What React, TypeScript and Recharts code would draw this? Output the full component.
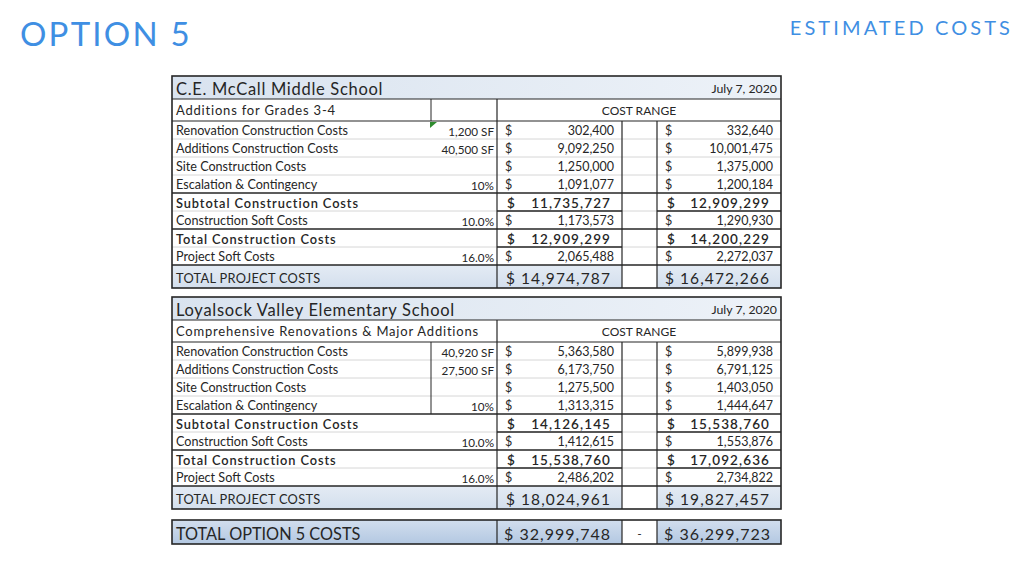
import React from 'react';
import { ComposedChart, Customized } from 'recharts';

// ---- data ----
const schools = ['C.E. McCall Middle School', 'Loyalsock Valley Elementary School'];
const projectTitles = ['Additions for Grades 3-4', 'Comprehensive Renovations & Major Additions'];
const reportDate = 'July 7, 2020';
const lineItems = [
  'Renovation Construction Costs',
  'Additions Construction Costs',
  'Site Construction Costs',
  'Escalation & Contingency',
  'Subtotal Construction Costs',
  'Construction Soft Costs',
  'Total Construction Costs',
  'Project Soft Costs',
  'TOTAL PROJECT COSTS',
];
const mccallQty = ['1,200 SF', '40,500 SF', '', '10%', '', '10.0%', '', '16.0%', ''];
const mccallLow = [302400, 9092250, 1250000, 1091077, 11735727, 1173573, 12909299, 2065488, 14974787];
const mccallHigh = [332640, 10001475, 1375000, 1200184, 12909299, 1290930, 14200229, 2272037, 16472266];
const loyalsockQty = ['40,920 SF', '27,500 SF', '', '10%', '', '10.0%', '', '16.0%', ''];
const loyalsockLow = [5363580, 6173750, 1275500, 1313315, 14126145, 1412615, 15538760, 2486202, 18024961];
const loyalsockHigh = [5899938, 6791125, 1403050, 1444647, 15538760, 1553876, 17092636, 2734822, 19827457];
const optionTotal = [32999748, 36299723];

const tables = [
  { school: schools[0], title: projectTitles[0], qty: mccallQty, low: mccallLow, high: mccallHigh },
  { school: schools[1], title: projectTitles[1], qty: loyalsockQty, low: loyalsockLow, high: loyalsockHigh },
];

// ---- layout ----
const FONT = 'Lato, "Open Sans", sans-serif';
const INK = '#262626';
const X0 = 172, XQ = 431, XC1 = 497, XG = 622, XC2 = 657, X1 = 781;
const HEAD_H = 23, SUB_H = 22, ROW_H = 18, TOTAL_H = 23;
const TABLE_TOPS = [76, 297];
const GRAND_TOP = 520, GRAND_H = 24;
const boldRows = [4, 6];
const totalRow = 8;

const fmt = (v: number) => v.toLocaleString('en-US');

const CostTable = ({ t, top, qtyGrid, comment }: any) => {
  const rowsTop = top + HEAD_H + SUB_H;
  const rowY = (i: number) => rowsTop + i * ROW_H;
  const bottom = rowY(totalRow) + TOTAL_H;
  const els: React.ReactNode[] = [];

  // backgrounds
  els.push(<rect key="hbg" x={X0} y={top} width={X1 - X0} height={HEAD_H} fill="url(#headGrad)" />);
  els.push(<rect key="tbg" x={X0} y={rowY(totalRow)} width={X1 - X0} height={TOTAL_H} fill="url(#totGrad)" />);
  els.push(<rect key="tgap" x={XG} y={rowY(totalRow)} width={XC2 - XG} height={TOTAL_H} fill="#fff" />);

  // thin row separators
  t.qty.forEach((_: string, i: number) => {
    if (i === 0) return;
    const heavy = i === 4 || i === 6 || i === 8;
    els.push(
      <line key={`h${i}`} x1={X0} x2={X1} y1={rowY(i)} y2={rowY(i)}
        stroke={heavy ? INK : '#cccccc'} strokeWidth={heavy ? 1.6 : 0.8} />
    );
  });
  // heavy bottoms of bold rows in the cost columns
  boldRows.forEach((r) => {
    [[XC1, XG], [XC2, X1]].forEach(([a, b], k) => (
      els.push(<line key={`bb${r}${k}`} x1={a} x2={b} y1={rowY(r + 1)} y2={rowY(r + 1)} stroke={INK} strokeWidth={1.6} />)
    ));
  });

  // header separators
  els.push(<line key="hs1" x1={X0} x2={X1} y1={top + HEAD_H} y2={top + HEAD_H} stroke={INK} strokeWidth={1.2} />);
  els.push(<line key="hs2" x1={X0} x2={X1} y1={rowsTop} y2={rowsTop} stroke={INK} strokeWidth={1.2} />);

  // verticals
  if (qtyGrid) {
    els.push(<line key="vq" x1={XQ} x2={XQ} y1={rowsTop} y2={rowY(4)} stroke={INK} strokeWidth={1} />);
  } else {
    els.push(<line key="vq" x1={XQ} x2={XQ} y1={top + HEAD_H} y2={rowsTop} stroke={INK} strokeWidth={1} />);
  }
  els.push(<line key="vc1" x1={XC1} x2={XC1} y1={top + HEAD_H} y2={bottom} stroke={INK} strokeWidth={1.2} />);
  els.push(<line key="vg" x1={XG} x2={XG} y1={rowsTop} y2={bottom} stroke={INK} strokeWidth={1.2} />);
  els.push(<line key="vc2" x1={XC2} x2={XC2} y1={rowsTop} y2={bottom} stroke={INK} strokeWidth={1.2} />);

  // outer frame
  els.push(<rect key="frame" x={X0} y={top} width={X1 - X0} height={bottom - top} fill="none" stroke={INK} strokeWidth={1.6} />);

  if (comment) {
    els.push(<polygon key="cm" points={`${XQ - 1},${rowsTop + 1} ${XQ + 6},${rowsTop + 1} ${XQ - 1},${rowsTop + 7}`} fill="#2e8b2e" />);
  }

  // header texts
  els.push(<text key="sn" x={X0 + 4} y={top + HEAD_H / 2 + 1} dominantBaseline="central" fontSize={16.5} letterSpacing={0.7} fill={INK}>{t.school}</text>);
  els.push(<text key="dt" x={X1 - 4} y={top + HEAD_H / 2 + 1} dominantBaseline="central" textAnchor="end" fontSize={12.3} fill={INK}>{reportDate}</text>);
  els.push(<text key="st" x={X0 + 4} y={top + HEAD_H + SUB_H / 2} dominantBaseline="central" fontSize={13} letterSpacing={0.8} fill={INK}>{t.title}</text>);
  els.push(<text key="cr" x={(XC1 + X1) / 2} y={top + HEAD_H + SUB_H / 2} dominantBaseline="central" textAnchor="middle" fontSize={12} fill={INK}>COST RANGE</text>);

  // line items
  lineItems.forEach((label, i) => {
    const isBold = boldRows.includes(i);
    const isTotal = i === totalRow;
    const h = isTotal ? TOTAL_H : ROW_H;
    const cy = rowY(i) + h / 2 + (isTotal ? 1 : 0.5);
    const lblSize = isBold || isTotal ? 12.8 : 12.6;
    els.push(
      <text key={`l${i}`} x={X0 + 4} y={cy} dominantBaseline="central" fontSize={lblSize}
        fontWeight={isBold ? 600 : 400} letterSpacing={isBold ? 0.9 : isTotal ? 0.3 : 0} fill={INK}>{label}</text>
    );
    if (t.qty[i]) {
      els.push(<text key={`q${i}`} x={XC1 - 3} y={cy} dominantBaseline="central" textAnchor="end" fontSize={11.7} fill={INK}>{t.qty[i]}</text>);
    }
    [[XC1, XG, t.low[i]], [XC2, X1, t.high[i]]].forEach(([a, b, v], k) => {
      if (isTotal) {
        els.push(
          <text key={`v${i}${k}`} x={b - 11} y={cy} dominantBaseline="central" textAnchor="end"
            fontSize={15.5} letterSpacing={1.1} fill={INK}>{`$ ${fmt(v)}`}</text>
        );
        return;
      }
      els.push(
        <text key={`d${i}${k}`} x={a + (isBold ? 10 : 8)} y={cy} dominantBaseline="central"
          fontSize={isBold ? 13.5 : 12.5} fontWeight={isBold ? 600 : 400} fill={INK}>$</text>
      );
      els.push(
        <text key={`v${i}${k}`} x={b - (isBold ? 11 : 8)} y={cy} dominantBaseline="central" textAnchor="end"
          fontSize={isBold ? 13.5 : 12.5} fontWeight={isBold ? 600 : 400} letterSpacing={isBold ? 1.1 : 0}
          fill={INK}>{fmt(v)}</text>
      );
    });
  });

  return <g fontFamily={FONT}>{els}</g>;
};

const GrandTotal = () => {
  const cy = GRAND_TOP + GRAND_H / 2 + 1;
  return (
    <g fontFamily={FONT}>
      <rect x={X0} y={GRAND_TOP} width={X1 - X0} height={GRAND_H} fill="url(#grandGrad)" />
      <rect x={XG} y={GRAND_TOP} width={XC2 - XG} height={GRAND_H} fill="#fff" />
      <line x1={XC1} x2={XC1} y1={GRAND_TOP} y2={GRAND_TOP + GRAND_H} stroke={INK} strokeWidth={1.2} />
      <line x1={XG} x2={XG} y1={GRAND_TOP} y2={GRAND_TOP + GRAND_H} stroke={INK} strokeWidth={1.2} />
      <line x1={XC2} x2={XC2} y1={GRAND_TOP} y2={GRAND_TOP + GRAND_H} stroke={INK} strokeWidth={1.2} />
      <rect x={X0} y={GRAND_TOP} width={X1 - X0} height={GRAND_H} fill="none" stroke={INK} strokeWidth={1.6} />
      <text x={X0 + 4} y={cy} dominantBaseline="central" fontSize={16.3} fill={INK}>TOTAL OPTION 5 COSTS</text>
      <text x={XG - 11} y={cy} dominantBaseline="central" textAnchor="end" fontSize={16} letterSpacing={1} fill={INK}>{`$ ${fmt(optionTotal[0])}`}</text>
      <text x={(XG + XC2) / 2} y={cy} dominantBaseline="central" textAnchor="middle" fontSize={12} fill={INK}>-</text>
      <text x={X1 - 10} y={cy} dominantBaseline="central" textAnchor="end" fontSize={16} letterSpacing={1} fill={INK}>{`$ ${fmt(optionTotal[1])}`}</text>
    </g>
  );
};

const Sheet = () => (
  <g>
    <defs>
      <linearGradient id="headGrad" x1="0" x2="1" y1="0" y2="0">
        <stop offset="0%" stopColor="#d9e3ef" />
        <stop offset="100%" stopColor="#edf2f8" />
      </linearGradient>
      <linearGradient id="totGrad" x1="0" x2="0" y1="0" y2="1">
        <stop offset="0%" stopColor="#e4ebf4" />
        <stop offset="100%" stopColor="#d3dfed" />
      </linearGradient>
      <linearGradient id="grandGrad" x1="0" x2="0" y1="0" y2="1">
        <stop offset="0%" stopColor="#d2deee" />
        <stop offset="100%" stopColor="#b3c8e2" />
      </linearGradient>
    </defs>
    <text x={20} y={33} dominantBaseline="central" fontFamily={FONT} fontSize={33} letterSpacing={2.2} fill="#3f8fe3">OPTION 5</text>
    <text x={1013} y={27} dominantBaseline="central" textAnchor="end" fontFamily={FONT} fontSize={20} letterSpacing={3.1} fill="#3f8fe3">ESTIMATED COSTS</text>
    {tables.map((t, i) => (
      <CostTable key={t.school} t={t} top={TABLE_TOPS[i]} qtyGrid={i === 1} comment={i === 0} />
    ))}
    <GrandTotal />
  </g>
);

export default function App() {
  return (
    <div style={{ position: 'fixed', left: 0, top: 0, width: 1024, height: 576, background: '#fff' }}>
      <ComposedChart width={1024} height={576} data={[]} margin={{ top: 0, right: 0, bottom: 0, left: 0 }}>
        <Customized component={Sheet} />
      </ComposedChart>
    </div>
  );
}
